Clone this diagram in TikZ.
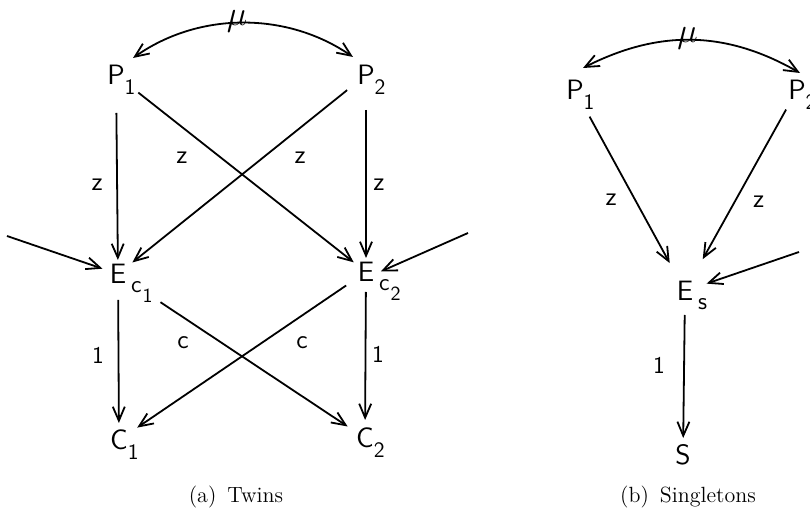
\documentclass[tikz,border=0pt]{standalone}
\usepackage{amsmath,amssymb}
\usepackage{xcolor}
\usepackage{tikz}
\usetikzlibrary{arrows.meta}

\newcommand{\psub}[1]{\rlap{\raisebox{-5pt}{\fontsize{11}{13}\selectfont #1}}}
\newcommand{\esub}[2]{\rlap{\hspace{2.5pt}\raisebox{-4.3pt}{\fontsize{12}{14}\selectfont #1\hspace{0.5pt}\raisebox{-5.2pt}{\fontsize{10}{12}\selectfont #2}}}}

\begin{document}
\begin{tikzpicture}[x=0.5pt,y=-0.5pt,->,>={Straight Barb[length=7pt,width=6pt]},
                    line width=0.9pt,
                    letter/.style={font=\fontsize{14}{16}\selectfont\sffamily,text height=9.7pt,
                                   text depth=0pt,inner sep=0pt,outer sep=0pt},
                    lbl/.style={font=\fontsize{13}{15}\selectfont\sffamily,inner sep=0pt},
                    num/.style={font=\fontsize{12}{14}\selectfont\sffamily,inner sep=0pt},
                    mulbl/.style={font=\fontsize{18}{20}\selectfont,inner sep=0pt,anchor=base},
                    subcap/.style={font=\fontsize{11}{13}\selectfont,inner sep=0pt}]
    \useasboundingbox (0,0) rectangle (810,518);

    % (a) twins
    \node[letter] (P1)  at (116,75)  {P\psub{1}};
    \node[letter] (P2)  at (366,75)  {P\psub{2}};
    \node[letter] (Ec1) at (118,274) {E\esub{c}{1}};
    \node[letter] (Ec2) at (366,272) {E\esub{c}{2}};
    \node[letter] (C1)  at (119,440) {C\psub{1}};
    \node[letter] (C2)  at (365,438) {C\psub{2}};
    \coordinate (inL) at (7,236);
    \coordinate (inR) at (468,233);

    \draw[<->] ([xshift=8.5pt,yshift=3.65pt]P1.north) .. controls (199,11.5) and (287,11.5) ..
          ([xshift=-6.5pt,yshift=4.15pt]P2.north) node[mulbl,pos=.5,xshift=-3pt,yshift=-1.5pt] (muA) {$\mu$};

    \path (P1.center) edge [shorten <=19pt,shorten >=7pt]
              node[lbl,pos=.55,xshift=-10pt] (zA) {z} (Ec1.center)
          (P1.center) edge [shorten <=14.2pt,shorten >=7.8pt]
              node[lbl,pos=.264,yshift=-15.5pt] (zB) {z} (Ec2.center)
          (P2.center) edge [shorten <=12.1pt,shorten >=9.2pt]
              node[lbl,pos=.266,yshift=-15pt] (zC) {z} (Ec1.center)
          (P2.center) edge [shorten <=17.5pt,shorten >=7pt]
              node[lbl,pos=.558,xshift=6.5pt] (zD) {z} (Ec2.center)
          (inL) edge [shorten >=8.2pt] (Ec1.center)
          (inR) edge [shorten >=8.1pt] ([yshift=-3pt]Ec2.center)
          (Ec1.center) edge [shorten <=13pt,shorten >=8.5pt]
              node[num,pos=.488,xshift=-10.2pt] (oneA) {1} (C1.center)
          (Ec1.center) edge [shorten <=25.5pt,shorten >=10.4pt]
              node[lbl,pos=.263,yshift=-13pt] (cA) {c} (C2.center)
          (Ec2.center) edge [shorten <=12pt,shorten >=11pt]
              node[lbl,pos=.259,yshift=-13.7pt] (cB) {c} (C1.center)
          (Ec2.center) edge [shorten <=10pt,shorten >=9pt]
              node[num,pos=.494,xshift=6.2pt] (oneB) {1} (C2.center);

    % (b) singletons
    \node[letter] (P1s) at (575,90)  {P\psub{1}};
    \node[letter] (P2s) at (797,90)  {P\psub{2}};
    \node[letter] (Es)  at (685,291) {E\esub{s}{}};
    \node[letter] (S)   at (683,455) {S};
    \coordinate (inS) at (799,252);

    \draw[<->] ([xshift=4pt,yshift=6.15pt]P1s.north) .. controls (658,30) and (725,30) ..
          ([xshift=1.5pt,yshift=3.65pt]P2s.north) node[mulbl,pos=.5,xshift=-2pt,yshift=-1pt] (muB) {$\mu$};

    \path (P1s.center) edge [shorten <=15.2pt,shorten >=15.9pt]
              node[lbl,pos=.547,xshift=-12pt] (zE) {z} (Es.center)
          (P2s.center) edge [shorten <=11.2pt,shorten >=18.2pt]
              node[lbl,pos=.557,xshift=12pt] (zF) {z} (Es.center)
          (inS) edge [shorten >=11.4pt] (Es.center)
          (Es.center) edge [shorten <=12pt,shorten >=8.5pt]
              node[num,pos=.451,xshift=-12.5pt] (oneC) {1} (S.center);

    % captions
    \node[subcap] (capA) at (236,497) {(a)\enspace Twins};
    \node[subcap] (capB) at (688,497) {(b)\enspace Singletons};
\end{tikzpicture}
\end{document}
